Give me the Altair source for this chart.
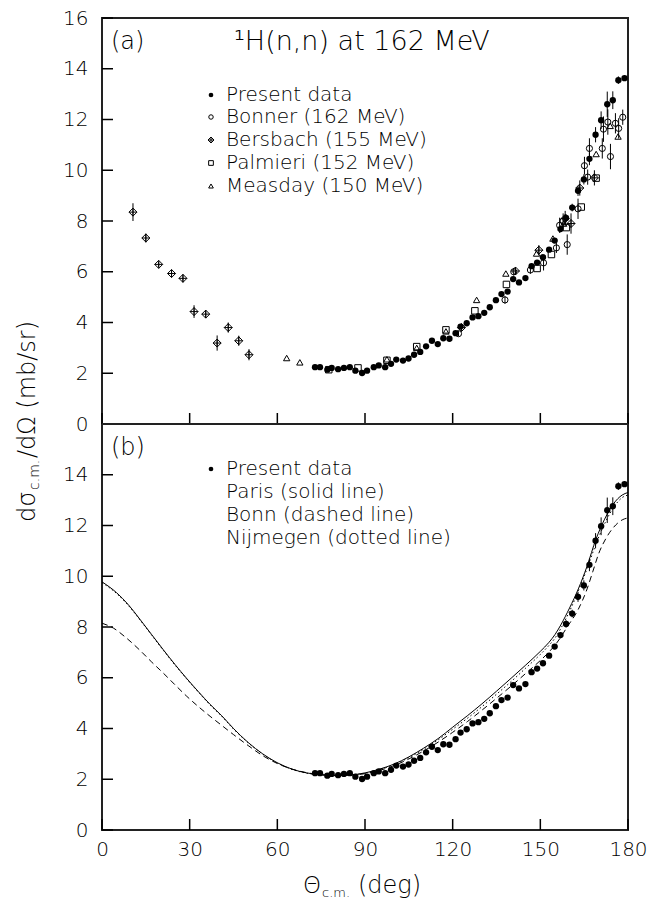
import altair as alt
import pandas as pd

# ---------------- data ----------------
present_deg = [72.9, 74.6, 77.1, 78.6, 80.8, 82.8, 84.8, 86.7, 89.0, 90.7,
               93.0, 94.7, 96.9, 98.9, 100.7, 103.0, 104.9, 106.8, 108.9, 110.9,
               112.9, 114.9, 116.8, 118.9, 121.0, 122.7, 124.8, 126.8, 128.8, 130.8,
               132.7, 134.8, 136.7, 138.8, 140.7, 142.7, 144.9, 147.0, 148.9, 150.9,
               153.0, 154.9, 156.9, 158.8, 160.9, 162.9, 164.9, 166.8, 168.9, 170.8,
               172.9, 174.8, 176.7, 178.8]
present_val = [2.24, 2.24, 2.14, 2.21, 2.16, 2.21, 2.24, 2.10, 2.01, 2.10,
               2.24, 2.31, 2.24, 2.37, 2.54, 2.50, 2.58, 2.73, 2.84, 3.06,
               3.28, 3.15, 3.38, 3.36, 3.58, 3.84, 3.97, 4.20, 4.25, 4.38,
               4.60, 4.88, 5.12, 5.22, 5.71, 5.58, 5.75, 6.22, 6.36, 6.57,
               6.87, 7.23, 7.68, 8.12, 8.53, 9.19, 9.64, 10.45, 11.40, 11.97,
               12.60, 12.76, 13.55, 13.63]
present_err = [0.05, 0.05, 0.05, 0.05, 0.05, 0.05, 0.05, 0.05, 0.05, 0.05,
               0.05, 0.05, 0.05, 0.05, 0.05, 0.05, 0.05, 0.05, 0.05, 0.05,
               0.05, 0.05, 0.05, 0.05, 0.05, 0.05, 0.05, 0.05, 0.05, 0.05,
               0.06, 0.06, 0.06, 0.06, 0.07, 0.07, 0.07, 0.07, 0.08, 0.08,
               0.08, 0.10, 0.12, 0.15, 0.15, 0.20, 0.20, 0.25, 0.30, 0.35,
               0.50, 0.35, 0.15, 0.10]

bonner_deg = [122.0, 137.9, 140.9, 146.6, 151.1, 155.5, 156.6, 157.8, 159.2, 162.9,
              165.1, 166.2, 166.8, 171.2, 171.6, 173.1, 174.0, 175.7, 176.8, 178.2]
bonner_val = [3.56, 4.89, 6.00, 6.07, 6.35, 6.94, 7.83, 8.00, 7.07, 8.48,
              10.18, 9.73, 10.86, 10.86, 11.62, 11.90, 10.54, 11.85, 11.65, 12.09]
bonner_err = [0.10, 0.15, 0.15, 0.15, 0.30, 0.20, 0.30, 0.30, 0.40, 0.40,
              0.35, 0.30, 0.40, 0.40, 0.50, 0.50, 0.50, 0.40, 0.40, 0.30]

bersbach_deg = [10.6, 15.0, 19.4, 23.8, 27.7, 31.5, 35.5, 39.4, 43.2, 46.8, 50.3,
                123.0, 141.5, 149.5, 158.5, 160.5, 163.5, 168.5]
bersbach_val = [8.35, 7.33, 6.29, 5.93, 5.74, 4.43, 4.33, 3.19, 3.80, 3.28, 2.73,
                3.80, 6.03, 6.85, 8.10, 7.90, 9.30, 9.70]
bersbach_err = [0.35, 0.18, 0.10, 0.12, 0.15, 0.25, 0.15, 0.30, 0.20, 0.20, 0.22,
                0.10, 0.15, 0.20, 0.30, 0.40, 0.30, 0.30]

palmieri_deg = [77.6, 87.6, 97.5, 107.7, 117.7, 127.6, 138.4, 148.9, 153.8, 158.9, 164.0, 169.1]
palmieri_val = [2.14, 2.21, 2.51, 3.05, 3.71, 4.46, 5.50, 6.13, 6.68, 7.74, 8.55, 9.69]

measday_deg = [63.2, 67.7, 97.5, 107.7, 117.7, 128.2, 138.2, 148.7, 154.3, 158.0, 169.1, 173.9, 176.6]
measday_val = [2.60, 2.43, 2.55, 3.00, 3.65, 4.89, 5.93, 6.72, 7.31, 7.90, 10.64, 11.75, 11.33]

paris_deg = [0, 5, 9, 13, 17, 21, 25, 29, 33, 37, 41, 45, 50, 55, 60, 65, 70, 75, 80, 85,
             90, 95, 100, 105, 110, 115, 120, 125, 130, 135, 140, 145, 150, 153, 155, 157,
             160, 163, 166, 169, 172, 175, 178, 180]
paris_val = [9.78, 9.35, 8.88, 8.30, 7.70, 7.10, 6.52, 5.97, 5.45, 4.95, 4.50, 4.00, 3.45,
             3.00, 2.65, 2.40, 2.25, 2.18, 2.15, 2.17, 2.25, 2.40, 2.60, 2.88, 3.22, 3.60,
             4.05, 4.50, 4.97, 5.47, 5.98, 6.50, 7.04, 7.40, 7.70, 8.08, 8.75, 9.50, 10.40,
             11.45, 12.25, 12.85, 13.20, 13.30]

bonn_deg = [0, 4, 8, 13, 17, 21, 25, 29, 33, 37, 41, 45, 50, 55, 60, 65, 70, 75, 80, 85,
            90, 95, 100, 105, 110, 115, 120, 125, 130, 135, 140, 145, 150, 153, 155, 157,
            159, 163, 166, 168, 170, 172.5, 175, 178, 180]
bonn_val = [8.15, 7.95, 7.60, 7.08, 6.62, 6.18, 5.72, 5.27, 4.86, 4.48, 4.12, 3.76, 3.33,
            2.93, 2.62, 2.40, 2.26, 2.18, 2.15, 2.16, 2.22, 2.35, 2.54, 2.80, 3.11, 3.46,
            3.85, 4.27, 4.72, 5.19, 5.67, 6.17, 6.68, 7.02, 7.28, 7.60, 7.97, 8.70, 9.50,
            10.20, 10.90, 11.50, 11.92, 12.22, 12.30]

nijmegen_deg = [0, 5, 9, 13, 17, 21, 25, 29, 33, 37, 41, 45, 50, 55, 60, 65, 70, 75, 80, 85,
                90, 95, 100, 105, 110, 115, 120, 125, 130, 135, 140, 145, 150, 153, 155, 157,
                160, 165, 170, 175, 178, 180]
nijmegen_val = [9.75, 9.32, 8.85, 8.28, 7.68, 7.08, 6.50, 5.95, 5.43, 4.93, 4.48, 3.98,
                3.44, 2.99, 2.64, 2.39, 2.24, 2.17, 2.14, 2.16, 2.24, 2.38, 2.58, 2.85,
                3.18, 3.55, 3.97, 4.40, 4.86, 5.35, 5.85, 6.38, 6.92, 7.28, 7.56, 7.94,
                8.62, 10.00, 11.55, 12.70, 13.10, 13.20]

x_ticks = [0, 30, 60, 90, 120, 150, 180]
y_ticks_top = [0, 2, 4, 6, 8, 10, 12, 14, 16]
y_ticks_bottom = [0, 2, 4, 6, 8, 10, 12, 14]

# ---------------- layout: one plot holding both panels ----------------
# panel (a) sits on top of panel (b); its values are lifted by one panel span (16)
SPAN = 16
FONT = "DejaVu Sans"
W, PH = 526, 406          # width, height of one panel
H = 2 * PH
TICK = 11
xs = alt.Scale(domain=[0, 180], nice=False)
ys = alt.Scale(domain=[0, 2 * SPAN], nice=False)
DIAMOND_CROSS = "M0,-1L1,0L0,1L-1,0Z M0,-1L0,1 M-1,0L1,0"

y_tick_pos = y_ticks_bottom + [v + SPAN for v in y_ticks_top]


def err_table(d, v, e, lift):
    df = pd.DataFrame({"deg": d, "val": v, "err": e})
    df["lo"] = df["val"] - df["err"] + lift
    df["hi"] = df["val"] + df["err"] + lift
    df["y"] = df["val"] + lift
    return df


def plain(d, v, lift):
    df = pd.DataFrame({"deg": d, "val": v})
    df["y"] = df["val"] + lift
    return df


present_top = err_table(present_deg, present_val, present_err, SPAN)
present_bot = err_table(present_deg, present_val, present_err, 0)
bonner_df = err_table(bonner_deg, bonner_val, bonner_err, SPAN)
bersbach_df = err_table(bersbach_deg, bersbach_val, bersbach_err, SPAN)
palmieri_df = plain(palmieri_deg, palmieri_val, SPAN)
measday_df = plain(measday_deg, measday_val, SPAN)
paris_df = plain(paris_deg, paris_val, 0)
bonn_df = plain(bonn_deg, bonn_val, 0)
nijmegen_df = plain(nijmegen_deg, nijmegen_val, 0)


def X(field):
    return alt.X(f"{field}:Q", scale=xs,
                 axis=alt.Axis(values=x_ticks, title=None, domain=False, grid=False,
                               ticks=False, labelPadding=9, labelFlush=False,
                               labelOverlap=False))


def Y(field):
    return alt.Y(f"{field}:Q", scale=ys,
                 axis=alt.Axis(values=y_tick_pos, title=None, domain=False, grid=False,
                               ticks=False, labelPadding=14, labelOverlap=False,
                               labelExpr=f"datum.value >= {SPAN} ? datum.value - {SPAN} : datum.value"))


def label(text, x, y, size=20, **kw):
    return alt.Chart(pd.DataFrame({"txt": [text]})).mark_text(
        align="left", baseline="middle", font=FONT, fontSize=size, color="black",
        fontWeight=300, **kw
    ).encode(x=alt.value(x), y=alt.value(y), text="txt:N")


def sym(x, y, shape, filled, size):
    return alt.Chart(pd.DataFrame({"s": [0]})).mark_point(
        shape=shape, filled=filled, size=size, color="black", opacity=1, strokeWidth=1
    ).encode(x=alt.value(x), y=alt.value(y))


def points(df, shape, filled, size):
    return alt.Chart(df).mark_point(
        shape=shape, filled=filled, size=size, color="black", opacity=1, strokeWidth=1
    ).encode(x=X("deg"), y=Y("y"))


def errbars(df):
    return alt.Chart(df).mark_rule(color="black", strokeWidth=1).encode(
        x=X("deg"), y=Y("lo"), y2="hi")


def curve(df, dash):
    kw = {"strokeDash": dash} if dash else {}
    return alt.Chart(df).mark_line(color="black", strokeWidth=1,
                                   interpolate="monotone", **kw).encode(
        x=X("deg"), y=Y("y"))


# inward tick marks, placed through the scales at the tick values
xt_df = pd.DataFrame({"xt": x_ticks})
ticks_x_bottom = alt.Chart(xt_df).mark_rule(color="black", strokeWidth=1.5).encode(
    x=X("xt"), y=alt.value(H), y2=alt.value(H - TICK))
ticks_x_mid = alt.Chart(xt_df).mark_rule(color="black", strokeWidth=1.5).encode(
    x=X("xt"), y=alt.value(PH), y2=alt.value(PH - TICK))
ticks_y = alt.Chart(pd.DataFrame({"yt": y_tick_pos})).mark_rule(
    color="black", strokeWidth=1.5).encode(y=Y("yt"), x=alt.value(0), x2=alt.value(TICK))
# frame line separating the two panels
divider = alt.Chart(pd.DataFrame({"d": [SPAN]})).mark_rule(
    color="#222", strokeWidth=2).encode(y=Y("d"))

layers = [
    ticks_x_bottom, ticks_x_mid, ticks_y, divider,
    # ----- panel (a) -----
    errbars(pd.concat([present_top, bonner_df, bersbach_df])),
    points(palmieri_df, "square", False, 42),
    points(measday_df, "triangle-up", False, 40),
    points(bersbach_df, DIAMOND_CROSS, False, 64),
    points(bonner_df, "circle", False, 38),
    points(present_top, "circle", True, 40),
    label("(a)", 9, 24, 24),
    label("¹H(n,n) at 162 MeV", 132, 24, 27),
    sym(109, 77, "circle", True, 22),
    label("Present data", 124, 77),
    sym(109, 99, "circle", False, 20),
    label("Bonner (162 MeV)", 124, 99),
    sym(109, 122, DIAMOND_CROSS, False, 36),
    label("Bersbach (155 MeV)", 124, 122),
    sym(109, 145, "square", False, 22),
    label("Palmieri (152 MeV)", 124, 145),
    sym(109, 168, "triangle-up", False, 22),
    label("Measday (150 MeV)", 124, 168),
    # ----- panel (b) -----
    curve(paris_df, None),
    curve(bonn_df, [6, 4]),
    curve(nijmegen_df, [1.5, 2.5]),
    errbars(present_bot),
    points(present_bot, "circle", True, 40),
    label("(b)", 9, PH + 24, 24),
    sym(109, PH + 45, "circle", True, 22),
    label("Present data", 124, PH + 45),
    label("Paris (solid line)", 124, PH + 68),
    label("Bonn (dashed line)", 124, PH + 91),
    label("Nijmegen (dotted line)", 124, PH + 114),
    # x axis title  Θ_c.m. (deg)
    label("Θ", 201, PH + 462, 23),
    label("c.m.", 220, PH + 469, 13),
    label("(deg)", 256, PH + 462, 24),
    # y axis title  dσ_c.m./dΩ (mb/sr)
    label("dσ", -74, PH + 98, 24, angle=270),
    label("c.m.", -67, PH + 66, 14, angle=270),
    label("/dΩ (mb/sr)", -74, PH + 34, 24, angle=270),
]

chart = alt.layer(*layers).properties(
    width=W, height=H,
    padding={"left": 8, "top": 0, "right": 0, "bottom": 0},
).configure_view(
    stroke="#222", strokeWidth=2
).configure_axis(
    labelFont=FONT, labelFontSize=20, labelColor="black", labelFontWeight=300,
)

chart.save("out.html", embed_options={"renderer": "svg", "actions": False})
